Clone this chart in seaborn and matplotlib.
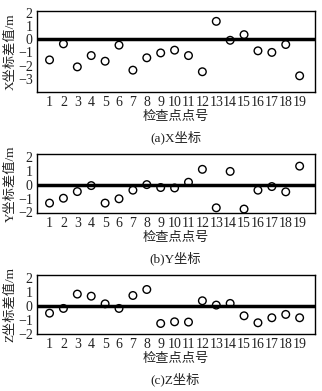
import matplotlib
matplotlib.use('Agg')
import matplotlib.pyplot as plt
import seaborn as sns
import pandas as pd

points = list(range(1, 20))
x_diff = [-1.57, -0.35, -2.1, -1.24, -1.67, -0.45, -2.35, -1.41, -1.04, -0.83,
          -1.24, -2.47, 1.36, -0.08, 0.35, -0.88, -1.0, -0.4, -2.78]
y_diff = [-1.33, -0.98, -0.5, -0.07, -1.33, -1.02, -0.4, 0.0, -0.21, -0.24,
          0.17, 1.1, -1.67, 0.95, -1.76, -0.4, -0.14, -0.52, 1.33]
z_diff = [-0.53, -0.19, 0.84, 0.69, 0.14, -0.19, 0.74, 1.17, -1.27, -1.15,
          -1.17, 0.36, 0.05, 0.17, -0.72, -1.22, -0.86, -0.62, -0.86]

panels = [
    (x_diff, 'X坐标差值/m', '(a)X坐标', (-4, 2.15), [-3, -2, -1, 0, 1, 2]),
    (y_diff, 'Y坐标差值/m', '(b)Y坐标', (-2.05, 2.2), [-2, -1, 0, 1, 2]),
    (z_diff, 'Z坐标差值/m', '(c)Z坐标', (-2.02, 2.22), [-2, -1, 0, 1, 2]),
]

sns.set_style('white')
plt.rcParams['font.family'] = ['Liberation Serif', 'Noto Sans CJK SC']
plt.rcParams['font.size'] = 9

fig = plt.figure(figsize=(3.22, 3.91), dpi=100)
boxes = [[0.115, 0.765, 0.863, 0.207],
         [0.115, 0.455, 0.863, 0.151],
         [0.115, 0.146, 0.863, 0.151]]
caption_y = [0.648, 0.338, 0.03]

for (vals, ylab, cap, ylim, yt), box, cy in zip(panels, boxes, caption_y):
    ax = fig.add_axes(box)
    df = pd.DataFrame({'pt': points, 'v': vals})
    ax.axhline(0, color='black', lw=2.5, zorder=1)
    sns.scatterplot(data=df, x='pt', y='v', ax=ax, marker='o', s=30,
                    facecolor='none', edgecolor='black', linewidth=1, zorder=3)
    ax.set_xlim(0.1, 20.1)
    ax.set_ylim(*ylim)
    ax.set_xticks(points)
    ax.set_yticks(yt)
    ax.tick_params(length=0, pad=3, labelsize=10, colors='#222222')
    for s in ax.spines.values():
        s.set_color('black')
        s.set_linewidth(1)
    ax.set_xlabel('检查点点号', fontsize=9.5, labelpad=1, color='#222222')
    ax.set_ylabel(ylab, fontsize=9.5, labelpad=1, color='#222222')
    fig.text(0.545, cy, cap, ha='center', va='center', fontsize=9.5, color='#222222')

plt.savefig('out.png', dpi=100)
